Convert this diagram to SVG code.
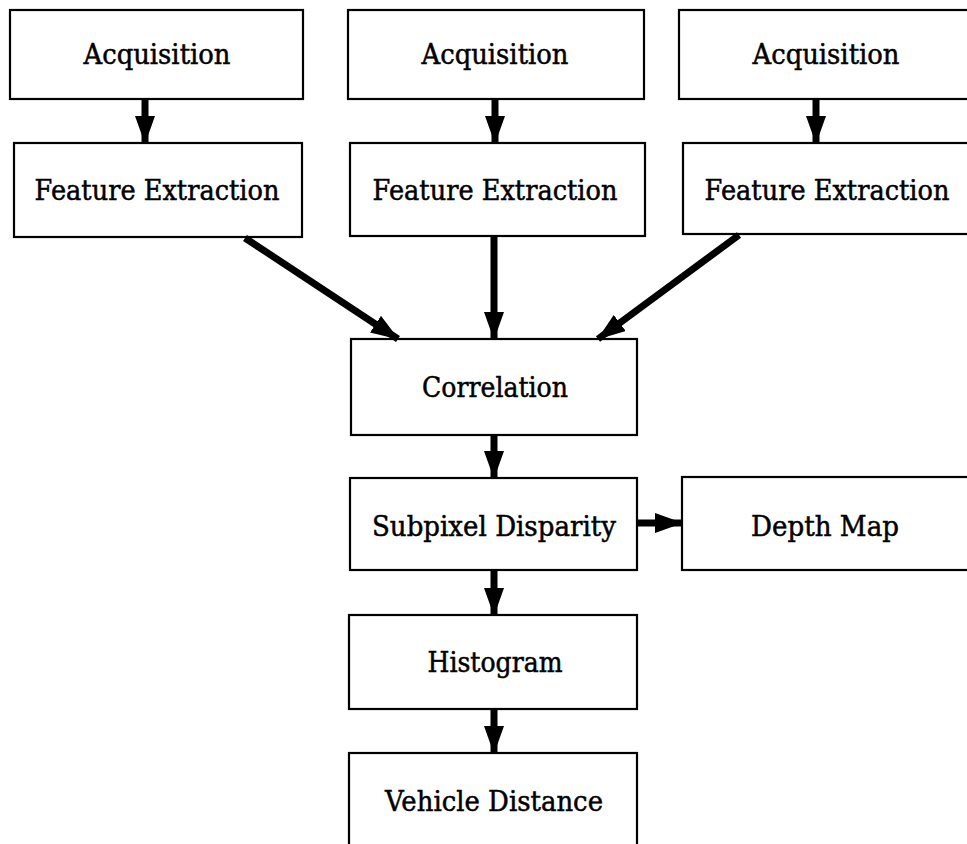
<svg xmlns="http://www.w3.org/2000/svg" width="967" height="844" viewBox="0 0 967 844">
<style>
.box{fill:#fff;stroke:#000;stroke-width:2.2}
.lbl{font-family:"DejaVu Serif","Liberation Serif",serif;font-size:27px;fill:#000;stroke:#000;stroke-width:0.5;text-anchor:middle}
.arr{stroke:#000;stroke-width:7;fill:none;marker-end:url(#ah)}
</style>
<defs>
<marker id="ah" viewBox="0 0 28 20" refX="27" refY="10" markerWidth="28" markerHeight="20" markerUnits="userSpaceOnUse" orient="auto">
<path d="M0,0 L28,10 L0,20 z" fill="#000"/>
</marker>
</defs>
<rect width="967" height="844" fill="#fff"/>
<g id="acq1"><rect class="box" x="10" y="10" width="293" height="89"/><text class="lbl" x="157" y="64" textLength="147" lengthAdjust="spacingAndGlyphs">Acquisition</text></g>
<g id="acq2"><rect class="box" x="348" y="10" width="296" height="89"/><text class="lbl" x="495" y="64" textLength="147" lengthAdjust="spacingAndGlyphs">Acquisition</text></g>
<g id="acq3"><rect class="box" x="679" y="10" width="300" height="89"/><text class="lbl" x="826" y="64" textLength="147" lengthAdjust="spacingAndGlyphs">Acquisition</text></g>
<g id="fe1"><rect class="box" x="14" y="143" width="288" height="94"/><text class="lbl" x="157" y="200" textLength="245" lengthAdjust="spacingAndGlyphs">Feature Extraction</text></g>
<g id="fe2"><rect class="box" x="350" y="143" width="295" height="93"/><text class="lbl" x="495" y="200" textLength="245" lengthAdjust="spacingAndGlyphs">Feature Extraction</text></g>
<g id="fe3"><rect class="box" x="683" y="143" width="300" height="91"/><text class="lbl" x="827" y="200" textLength="245" lengthAdjust="spacingAndGlyphs">Feature Extraction</text></g>
<g id="corr"><rect class="box" x="351" y="339" width="286" height="96"/><text class="lbl" x="495" y="397" textLength="146" lengthAdjust="spacingAndGlyphs">Correlation</text></g>
<g id="sub"><rect class="box" x="350" y="478" width="287" height="92"/><text class="lbl" x="494" y="536" textLength="244" lengthAdjust="spacingAndGlyphs">Subpixel Disparity</text></g>
<g id="depth"><rect class="box" x="682" y="477" width="300" height="93"/><text class="lbl" x="825" y="536" textLength="148" lengthAdjust="spacingAndGlyphs">Depth Map</text></g>
<g id="hist"><rect class="box" x="349" y="615" width="288" height="94"/><text class="lbl" x="495" y="672" textLength="135" lengthAdjust="spacingAndGlyphs">Histogram</text></g>
<g id="veh"><rect class="box" x="349" y="753" width="288" height="110"/><text class="lbl" x="494" y="811" textLength="218" lengthAdjust="spacingAndGlyphs">Vehicle Distance</text></g>
<g id="connectors">
<line class="arr" x1="145" y1="100" x2="145" y2="143"/>
<line class="arr" x1="495" y1="100" x2="495" y2="143"/>
<line class="arr" x1="816" y1="100" x2="816" y2="143"/>
<line class="arr" x1="245" y1="238" x2="398" y2="339"/>
<line class="arr" x1="494" y1="237" x2="494" y2="339"/>
<line class="arr" x1="739" y1="235" x2="598" y2="339"/>
<line class="arr" x1="494" y1="436" x2="494" y2="478"/>
<line class="arr" x1="638" y1="523" x2="682" y2="523"/>
<line class="arr" x1="494" y1="571" x2="494" y2="615"/>
<line class="arr" x1="494" y1="710" x2="494" y2="753"/>
</g>
</svg>
